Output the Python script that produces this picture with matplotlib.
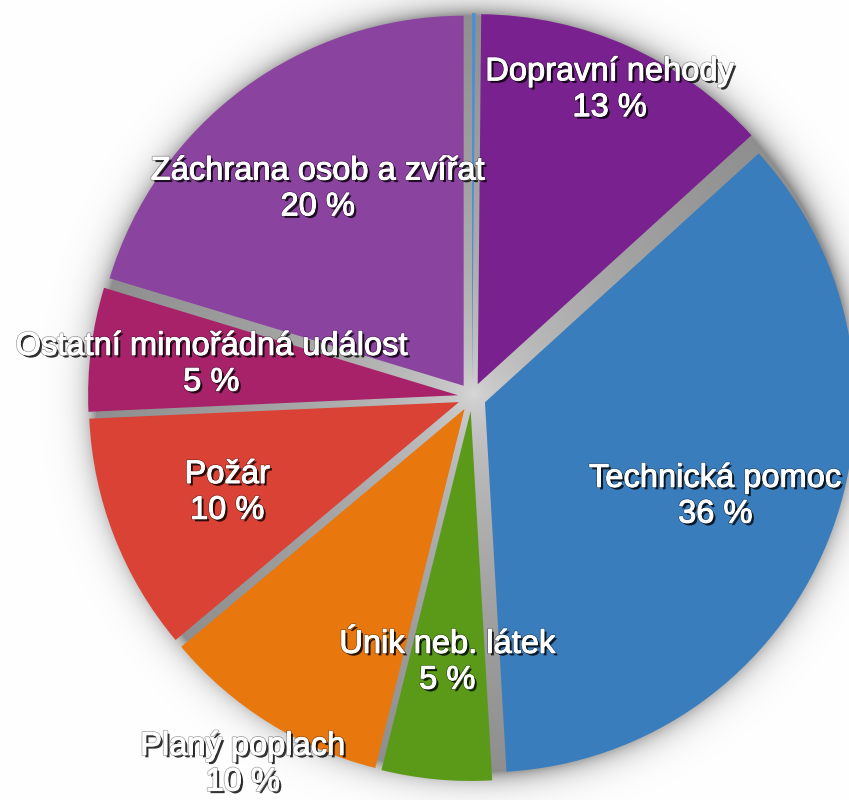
import matplotlib
matplotlib.use('Agg')
import matplotlib.pyplot as plt
import matplotlib.patheffects as pe
import numpy as np

categories = ['', 'Dopravní nehody', 'Technická pomoc', 'Únik neb. látek',
              'Planý poplach', 'Požár', 'Ostatní mimořádná událost',
              'Záchrana osob a zvířat']
values = [0.15, 13.1, 35.8, 4.8, 10.0, 10.4, 5.4, 20.3]
colors = ['#4a8fd8', '#7a2190', '#3a7dbd', '#5a9a18', '#e8770e', '#da4236',
          '#a8226a', '#8b43a0']

# layout (label radial distance as fraction of radius)
label_dist = [0, 0.91, 0.71, 0.72, 1.17, 0.71, 0.71, 0.70]

W, H = 849, 800
fig = plt.figure(figsize=(W / 100, H / 100), dpi=100)
ax = fig.add_axes([0, 0, 1, 1])

cx, cy, R = 472, H - 397, 370
explode = [14] * len(values)

wedges, _ = ax.pie(values, colors=colors, startangle=90, counterclock=False,
                   center=(cx, cy), radius=R, explode=explode,
                   wedgeprops=dict(linewidth=0, zorder=3))
ax.set_xlim(0, W)
ax.set_ylim(0, H)
ax.set_aspect('equal')
ax.axis('off')

# background gray disc + soft shadow
yy, xx = np.mgrid[H - 0.5:0:-1, 0.5:W:1]
r = np.hypot(xx - (cx + 2), yy - (cy + 3))
Rb = R + 8
inner = 0.86 - 0.30 * np.sqrt(np.clip(r / Rb, 0, 1))
g = np.where(r <= Rb, inner,
             1 - 0.44 * np.exp(-np.clip(r - Rb, 0, None) / 12.0))
img = np.dstack([g, g, g])
ax.imshow(img, extent=(0, W, 0, H), origin='upper', zorder=0,
          interpolation='bilinear')
ax.set_xlim(0, W)
ax.set_ylim(0, H)

effects = [pe.SimplePatchShadow(offset=(1.8, -1.8), shadow_rgbFace='black', alpha=0.8),
           pe.Stroke(linewidth=1.8, foreground=(0, 0, 0, 0.35)),
           pe.Stroke(linewidth=0.7, foreground='white'),
           pe.Normal()]

for w, name, v, d in zip(wedges, categories, values, label_dist):
    if not name:
        continue
    th = np.deg2rad((w.theta1 + w.theta2) / 2)
    x = cx + d * R * np.cos(th)
    y = cy + d * R * np.sin(th)
    ax.text(x, y, f"{name}\n{round(v)} %", ha='center', va='center',
            multialignment='center', linespacing=1.2, fontsize=23.5,
            family='Liberation Sans', color='white', zorder=5,
            path_effects=effects)

fig.savefig('out.png', dpi=100)
